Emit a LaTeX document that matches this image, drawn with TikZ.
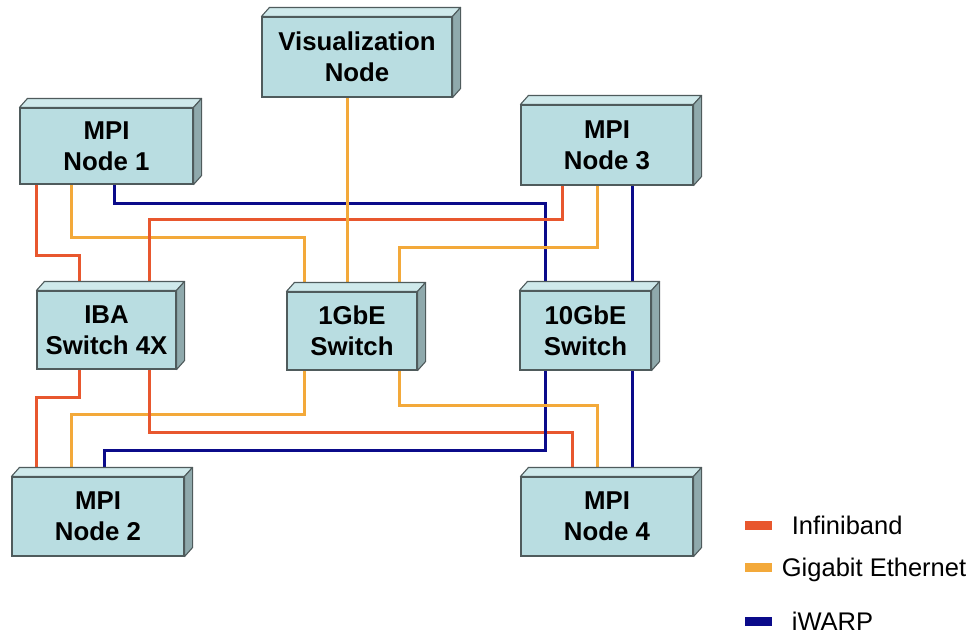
\documentclass[tikz,border=0pt]{standalone}
\usepackage{fontspec}
\setmainfont{Liberation Sans}
\usepackage{xcolor}
\usepackage{tikz}
\usetikzlibrary{positioning, calc, backgrounds}
\definecolor{boxfront}{HTML}{B9DDE1}
\definecolor{boxtop}{HTML}{CFE9EB}
\definecolor{boxside}{HTML}{8FA9AC}
\definecolor{boxline}{HTML}{4F5B5C}
\definecolor{ibred}{HTML}{E8572E}
\definecolor{gbeorange}{HTML}{F3A93A}
\definecolor{iwblue}{HTML}{0B0B8A}

\begin{document}
\begin{tikzpicture}[x=1pt, y=-1pt,
    netbox/.style={draw=boxline, fill=boxfront, line width=1.1pt, inner sep=0pt,
        font=\bfseries\fontsize{25.8}{31}\selectfont, align=center},
    topface/.style={draw=boxline, fill=boxtop, line width=1.1pt, line join=round},
    sideface/.style={draw=boxline, fill=boxside, line width=1.1pt, line join=round},
    ib/.style={ibred, line width=3.6pt},
    ge/.style={gbeorange, line width=3.6pt},
    iw/.style={iwblue, line width=3.6pt},
    legbar/.style={minimum width=27pt, minimum height=9pt, inner sep=0pt},
    legtext/.style={inner sep=0pt, text height=18pt, text depth=0pt,
        font=\fontsize{25.5}{30}\selectfont},
]
\useasboundingbox (0,0) rectangle (975,635);
\node[netbox, minimum width=190pt, minimum height=80pt] (viz)   at (357,57)    {Visualization\\Node};
\node[netbox, minimum width=173pt, minimum height=76pt] (mpi1)  at (106.5,146) {MPI\\Node 1};
\node[netbox, minimum width=172pt, minimum height=80pt] (mpi3)  at (607,145)   {MPI\\Node 3};
\node[netbox, minimum width=139pt, minimum height=78pt] (iba)   at (106.5,330) {IBA\\Switch 4X};
\node[netbox, minimum width=130pt, minimum height=78pt] (gbe1)  at (352,331)   {1GbE\\Switch};
\node[netbox, minimum width=131pt, minimum height=79pt] (gbe10) at (585.5,330.5) {10GbE\\Switch};
\node[netbox, minimum width=172pt, minimum height=79pt] (mpi2)  at (98,516.5)  {MPI\\Node 2};
\node[netbox, minimum width=172pt, minimum height=79pt] (mpi4)  at (607,516.5) {MPI\\Node 4};
\foreach \n in {viz,mpi1,mpi3,iba,gbe1,gbe10,mpi2,mpi4}{
  \draw[topface] (\n.north west) -- ++(8,-9) -- ([shift={(8,-9)}]\n.north east) -- (\n.north east) -- cycle;
  \draw[sideface] (\n.north east) -- ++(8,-9) -- ([shift={(8,-9)}]\n.south east) -- (\n.south east) -- cycle;
}
\begin{scope}[on background layer]
\draw[ib] ([xshift=17pt]mpi1.south west) -- ++(0,71) -| ([xshift=43pt]iba.north west);
\draw[ge] ([xshift=52pt]mpi1.south west) -- ++(0,53) -| ([xshift=18pt]gbe1.north west);
\draw[iw] ([xshift=95pt]mpi1.south west) -- ++(0,19) -| ([xshift=26pt]gbe10.north west);
\draw[ib] ([xshift=113pt]iba.north west) -- ++(0,-71) -| ([xshift=42pt]mpi3.south west);
\draw[ge] ([xshift=77pt]mpi3.south west) -- ++(0,62) -| ([xshift=113pt]gbe1.north west);
\draw[iw] ([xshift=112pt]mpi3.south west) -- ([xshift=113pt]gbe10.north west);
\draw[ge] ([xshift=86pt]viz.south west) -- ([xshift=61pt]gbe1.north west);
\draw[ib] ([xshift=43pt]iba.south west) -- ++(0,28) -| ([xshift=25pt]mpi2.north west);
\draw[ge] ([xshift=18pt]gbe1.south west) -- ++(0,44) -| ([xshift=60pt]mpi2.north west);
\draw[ib] ([xshift=113pt]iba.south west) -- ++(0,63) -| ([xshift=52pt]mpi4.north west);
\draw[iw] ([xshift=26pt]gbe10.south west) -- ++(0,80) -| ([xshift=93pt]mpi2.north west);
\draw[ge] ([xshift=113pt]gbe1.south west) -- ++(0,35) -| ([xshift=77pt]mpi4.north west);
\draw[iw] ([xshift=113pt]gbe10.south west) -- ([xshift=112pt]mpi4.north west);
\end{scope}
\node[legbar, fill=ibred]     (lib) at (758,525) {};
\node[legbar, fill=gbeorange] (lge) at (758,567) {};
\node[legbar, fill=iwblue]    (liw) at (758,621) {};
\node[legtext, right=20pt of lib] (tib) {Infiniband};
\node[legtext, right=10pt of lge] (tge) {Gigabit Ethernet};
\node[legtext, right=20pt of liw] (tiw) {iWARP};
\end{tikzpicture}
\end{document}
